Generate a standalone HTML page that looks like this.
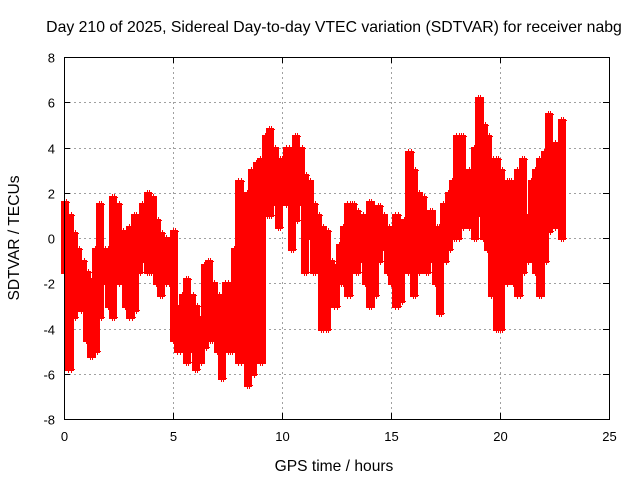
<!DOCTYPE html>
<html><head><meta charset="utf-8"><style>
body{margin:0;background:#fff;}
svg{display:block;font-family:"Liberation Sans",sans-serif;}
</style></head><body>
<svg id="chart" width="640" height="480" viewBox="0 0 640 480">
<rect width="640" height="480" fill="#fff"/>
<text x="334" y="32" font-size="15.8" text-anchor="middle">Day 210 of 2025, Sidereal Day-to-day VTEC variation (SDTVAR) for receiver nabg</text>
<g id="grid"></g>
<g id="ticks"></g>
<path id="bands" fill="#ff0000" stroke="none" shape-rendering="crispEdges"/>
<path id="marks" fill="none" stroke="#ff0000" stroke-width="1" shape-rendering="crispEdges"/>
<rect x="64.5" y="57.5" width="545" height="362" fill="none" stroke="#000" stroke-width="1"/>
<text x="334" y="471" font-size="15.6" text-anchor="middle">GPS time / hours</text>
<text transform="translate(19,238) rotate(-90)" font-size="15.6" text-anchor="middle">SDTVAR / TECUs</text>
</svg>
<script>
const xTicks=[0,5,10,15,20,25];
const yTicks=[-8,-6,-4,-2,0,2,4,6,8];
const hours=[0,0.2,0.4,0.6,0.8,1.0,1.2,1.4,1.6,1.8,2.0,2.2,2.4,2.6,2.8,3.0,3.2,3.4,3.6,3.8,4.0,4.2,4.4,4.6,4.8,5.0,5.2,5.4,5.6,5.8,6.0,6.2,6.4,6.6,6.8,7.0,7.2,7.4,7.6,7.8,8.0,8.2,8.4,8.6,8.8,9.0,9.2,9.4,9.6,9.8,10.0,10.2,10.4,10.6,10.8,11.0,11.2,11.4,11.6,11.8,12.0,12.2,12.4,12.6,12.8,13.0,13.2,13.4,13.6,13.8,14.0,14.2,14.4,14.6,14.8,15.0,15.2,15.4,15.6,15.8,16.0,16.2,16.4,16.6,16.8,17.0,17.2,17.4,17.6,17.8,18.0,18.2,18.4,18.6,18.8,19.0,19.2,19.4,19.6,19.8,20.0,20.2,20.4,20.6,20.8,21.0,21.2,21.4,21.6,21.8,22.0,22.2,22.4,22.6,22.8];
const lowVals=[-1.5,-5.8,-3.5,-3.0,-3.2,-4.5,-5.2,-5.0,-3.5,-2.0,-3.0,-3.5,-2.0,-1.5,-3.0,-3.5,-3.2,-1.5,-1.0,-1.5,-1.5,-2.0,-2.5,-2.0,-2.0,-4.5,-5.0,-4.5,-5.5,-5.0,-5.8,-5.5,-4.8,-4.5,-4.5,-5.0,-6.2,-5.0,-5.0,-4.8,-5.5,-4.5,-6.5,-6.0,-5.0,-5.5,1.0,1.0,1.5,0.5,2.0,1.5,-0.5,0.8,1.5,-1.5,0.0,-1.5,-1.0,-4.0,-4.0,-2.5,-3.0,-2.0,-2.0,-2.5,-1.0,-1.5,-1.0,-2.0,-3.0,-2.5,-1.0,-0.5,-1.5,-2.0,-3.0,-2.8,-1.0,-1.5,-2.5,-1.5,-0.5,-1.5,-1.0,-2.0,-3.3,-1.0,-0.5,0.0,0.0,0.5,1.0,0.5,0.0,1.0,0.0,-0.5,-2.5,-4.0,-4.0,-2.0,-1.0,-2.0,-2.5,-1.5,-1.0,0.5,-1.5,-2.5,-1.0,0.3,0.5,1.5,0.0];
const highVals=[1.6,1.0,0.2,-0.5,-1.0,-1.5,-1.8,-0.5,1.5,-0.5,-0.5,1.8,1.5,0.3,0.0,0.5,1.0,0.8,1.5,2.0,1.8,0.8,0.2,0.0,-0.5,0.3,-3.0,-2.5,-1.8,-2.5,-3.0,-3.5,-1.2,-1.0,-2.0,-2.5,-3.5,-2.0,-2.5,-0.5,2.5,0.0,2.0,3.0,3.3,3.5,4.5,4.8,4.0,3.5,3.5,4.0,3.2,4.5,4.0,2.8,2.5,1.5,1.0,0.5,0.3,-1.0,-1.2,-0.3,0.5,1.5,1.5,1.2,1.0,0.2,1.6,1.0,1.4,1.0,0.5,-0.3,1.0,0.5,0.8,3.8,3.0,2.0,1.8,1.0,1.2,0.5,0.5,1.5,2.0,2.5,4.5,4.5,2.5,3.0,4.0,6.2,5.0,4.5,3.5,3.5,3.0,2.5,2.5,1.5,3.0,3.5,1.0,2.5,3.0,3.5,3.8,5.5,4.2,3.5,5.2];
const X0=64,X1=609,Y0=419,Y1=57;
function xs(h){return X0+(h-0)/25*(X1-X0);}
function ys(v){return Y0-(v+8)/16*(Y0-Y1);}
const NS="http://www.w3.org/2000/svg";
const grid=document.getElementById('grid'),ticks=document.getElementById('ticks');
xTicks.forEach(t=>{
 const x=Math.round(xs(t))+0.5;
 if(t>0&&t<25){const l=document.createElementNS(NS,'line');
 
 
 l.setAttribute('x1',x);l.setAttribute('x2',x);l.setAttribute('y1',Y1);l.setAttribute('y2',Y0);
 l.setAttribute('stroke','#a0a0a0');l.setAttribute('stroke-dasharray','2,3');grid.appendChild(l);}
 const tk=document.createElementNS(NS,'path');
 
 
 tk.setAttribute('d',`M${x},${Y0}v-6M${x},${Y1}v6`);tk.setAttribute('stroke','#000');ticks.appendChild(tk);
 const tx=document.createElementNS(NS,'text');
 
 
 tx.setAttribute('x',x);tx.setAttribute('y',Y0+22);tx.setAttribute('font-size','13');tx.setAttribute('text-anchor','middle');
 tx.textContent=t;ticks.appendChild(tx);
});
yTicks.forEach(t=>{
 const y=Math.round(ys(t))+0.5;
 if(t>-8&&t<8){const l=document.createElementNS(NS,'line');
 
 
 l.setAttribute('x1',X0);l.setAttribute('x2',X1);l.setAttribute('y1',y);l.setAttribute('y2',y);
 l.setAttribute('stroke','#a0a0a0');l.setAttribute('stroke-dasharray','2,3');grid.appendChild(l);}
 const tk=document.createElementNS(NS,'path');
 
 
 tk.setAttribute('d',`M${X0},${y}h6M${X1},${y}h-6`);tk.setAttribute('stroke','#000');ticks.appendChild(tk);
 const tx=document.createElementNS(NS,'text');
 
 
 tx.setAttribute('x',X0-9);tx.setAttribute('y',y+5);tx.setAttribute('font-size','13');tx.setAttribute('text-anchor','end');
 tx.textContent=t;ticks.appendChild(tx);
});
let d='',b='';
function plus(x,y){x=Math.round(x)+0.5;y=Math.round(y)+0.5;d+=`M${x-3.5},${y}h7M${x},${y-3.5}v7`;}
hours.forEach((h,i)=>{
 const lo=lowVals[i],hi=highVals[i];
 const xa=Math.round(xs(h))-3, xb=Math.round(xs(h+0.2))+1;
 const ya=Math.round(ys(hi))-1, yb=Math.round(ys(lo))+2;
 b+=`M${xa},${ya}H${xb}V${yb}H${xa}Z`;
 [0,0.1].forEach(off=>{
  const x=xs(h+off);
  plus(x,ys(hi));plus(x,ys(lo));
 });
});
document.getElementById('bands').setAttribute('d',b);
document.getElementById('marks').setAttribute('d',d);
</script>
</body></html>
